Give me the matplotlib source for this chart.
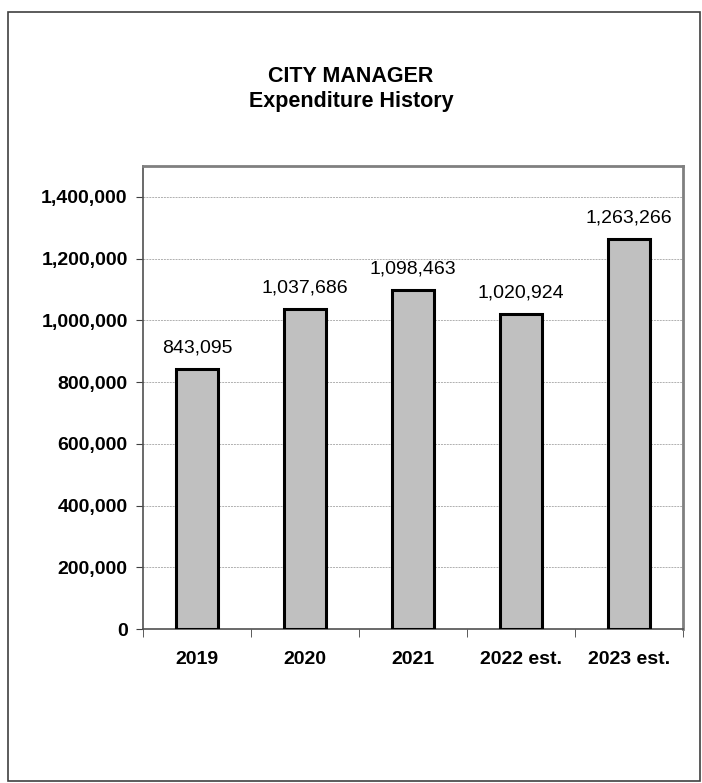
import matplotlib
matplotlib.use('Agg')
import matplotlib.pyplot as plt
from matplotlib.patches import Rectangle
from matplotlib.ticker import FuncFormatter, MultipleLocator

plt.rcParams['font.family'] = ['Liberation Sans', 'DejaVu Sans']

years = ['2019', '2020', '2021', '2022 est.', '2023 est.']
spending = [843095, 1037686, 1098463, 1020924, 1263266]

fig = plt.figure(figsize=(7.02, 7.83), dpi=100)

# outer frame round the whole chart
fig.patches.append(Rectangle((8 / 702, 2 / 783), 692 / 702, 769 / 783,
                             transform=fig.transFigure, fill=False,
                             edgecolor='#404040', linewidth=1.2))

fig.text(0.5, 1 - 77 / 783, 'CITY MANAGER', ha='center', va='center',
         fontsize=15.5, fontweight='bold')
fig.text(0.5, 1 - 101 / 783, 'Expenditure History', ha='center', va='center',
         fontsize=15.5, fontweight='bold')

ax = fig.add_axes([143 / 702, 1 - 629 / 783, 540 / 702, 463 / 783])
x = range(len(years))
ax.bar(x, spending, width=0.39, color='#c0c0c0', edgecolor='black',
       linewidth=2.2, zorder=3)
for i, v in zip(x, spending):
    ax.text(i, v + 40000, f'{v:,}', ha='center', va='bottom', fontsize=14)

ax.set_xlim(-0.5, len(years) - 0.5)
ax.set_ylim(0, 1500000)
ax.yaxis.set_major_locator(MultipleLocator(200000))
ax.yaxis.set_major_formatter(FuncFormatter(lambda v, p: f'{int(v):,}'))
ax.set_xticks(x)
ax.set_xticklabels(years)
ax.set_xticks([i - 0.5 for i in range(len(years) + 1)], minor=True)
ax.tick_params(axis='x', which='major', length=0, pad=16)
ax.tick_params(axis='x', which='minor', length=6, direction='out', color='#404040')
ax.tick_params(axis='y', length=5, direction='out', color='#404040', pad=6)
for lab in ax.get_xticklabels() + ax.get_yticklabels():
    lab.set_fontweight('bold')
    lab.set_fontsize(14)

ax.grid(axis='y', color='#b0b0b0', linestyle=(0, (2, 1)), linewidth=0.7, zorder=0)
for side in ['top', 'right']:
    ax.spines[side].set_color('#808080')
    ax.spines[side].set_linewidth(2)
for side in ['left', 'bottom']:
    ax.spines[side].set_color('#505050')
    ax.spines[side].set_linewidth(1.2)

fig.savefig('out.png', dpi=100)
